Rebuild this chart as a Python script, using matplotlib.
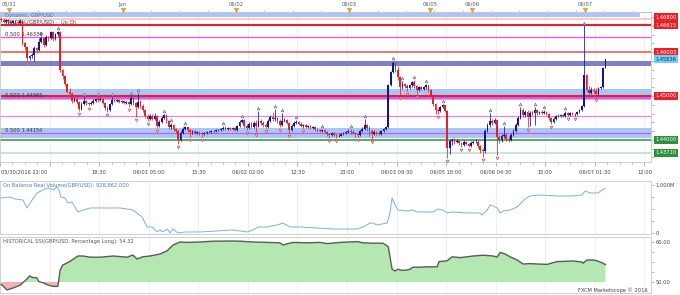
import matplotlib
matplotlib.use('Agg')
import matplotlib.pyplot as plt
import matplotlib.transforms as mtransforms
import numpy as np

plt.rcParams['font.family'] = ['DejaVu Sans']

# ---------------- data (30-minute GBP/USD candles) ----------------
first_open = 1.4676
closes = [
    1.4673, 1.4669, 1.4673, 1.4671, 1.4666, 1.4671, 1.4669, 1.4666, 1.4671, 1.4621,
    1.4612, 1.4587, 1.4591, 1.4593, 1.4609, 1.4605, 1.4623, 1.4632, 1.4616, 1.4635,
    1.4632, 1.4646, 1.4630, 1.4641, 1.4646, 1.4559, 1.4546, 1.4527, 1.4509, 1.4505,
    1.4489, 1.4493, 1.4486, 1.4470, 1.4482, 1.4489, 1.4484, 1.4482, 1.4484, 1.4489,
    1.4493, 1.4491, 1.4493, 1.4484, 1.4473, 1.4468, 1.4482, 1.4491, 1.4489, 1.4491,
    1.4486, 1.4489, 1.4484, 1.4486, 1.4482, 1.4495, 1.4484, 1.4475, 1.4486, 1.4477,
    1.4468, 1.4454, 1.4448, 1.4454, 1.4448, 1.4454, 1.4432, 1.4441, 1.4450, 1.4457,
    1.4443, 1.4429, 1.4434, 1.4425, 1.4420, 1.4400, 1.4416, 1.4425, 1.4429, 1.4422,
    1.4418, 1.4420, 1.4416, 1.4418, 1.4416, 1.4413, 1.4416, 1.4418, 1.4418, 1.4420,
    1.4420, 1.4422, 1.4422, 1.4425, 1.4427, 1.4425, 1.4427, 1.4425, 1.4427, 1.4422,
    1.4432, 1.4441, 1.4445, 1.4432, 1.4427, 1.4436, 1.4429, 1.4438, 1.4432, 1.4443,
    1.4438, 1.4434, 1.4429, 1.4443, 1.4452, 1.4448, 1.4450, 1.4443, 1.4434, 1.4443,
    1.4445, 1.4438, 1.4422, 1.4432, 1.4438, 1.4441, 1.4436, 1.4432, 1.4434, 1.4429,
    1.4432, 1.4427, 1.4429, 1.4425, 1.4422, 1.4420, 1.4422, 1.4418, 1.4413, 1.4411,
    1.4416, 1.4411, 1.4409, 1.4409, 1.4413, 1.4416, 1.4418, 1.4420, 1.4418, 1.4416,
    1.4413, 1.4411, 1.4420, 1.4425, 1.4434, 1.4427, 1.4420, 1.4413, 1.4418, 1.4416,
    1.4413, 1.4420, 1.4425, 1.4429, 1.4525, 1.4555, 1.4575, 1.4559, 1.4543, 1.4521,
    1.4527, 1.4523, 1.4518, 1.4525, 1.4532, 1.4523, 1.4514, 1.4521, 1.4516, 1.4521,
    1.4525, 1.4514, 1.4502, 1.4482, 1.4468, 1.4466, 1.4475, 1.4479, 1.4466, 1.4381,
    1.4397, 1.4400, 1.4395, 1.4397, 1.4393, 1.4388, 1.4395, 1.4391, 1.4386, 1.4393,
    1.4395, 1.4395, 1.4386, 1.4377, 1.4375, 1.4420, 1.4434, 1.4443, 1.4438, 1.4445,
    1.4406, 1.4400, 1.4409, 1.4411, 1.4402, 1.4400, 1.4411, 1.4420, 1.4434, 1.4450,
    1.4468, 1.4457, 1.4464, 1.4452, 1.4461, 1.4461, 1.4468, 1.4461, 1.4464, 1.4461,
    1.4464, 1.4459, 1.4450, 1.4441, 1.4448, 1.4454, 1.4454, 1.4457, 1.4454, 1.4461,
    1.4457, 1.4461, 1.4459, 1.4459, 1.4464, 1.4468, 1.4477, 1.4548, 1.4514, 1.4507,
    1.4514, 1.4511, 1.4505, 1.4518, 1.4521, 1.4564, 1.45836,
]
highs = [
    1.4680, 1.4678, 1.4676, 1.4676, 1.4673, 1.4673, 1.4673, 1.4671, 1.4676, 1.4671,
    1.4623, 1.4614, 1.4593, 1.4598, 1.4614, 1.4612, 1.4632, 1.4637, 1.4632, 1.4639,
    1.4637, 1.4648, 1.4648, 1.4644, 1.4648, 1.4648, 1.4562, 1.4548, 1.4530, 1.4518,
    1.4509, 1.4498, 1.4498, 1.4489, 1.4486, 1.4498, 1.4491, 1.4486, 1.4489, 1.4493,
    1.4495, 1.4498, 1.4498, 1.4495, 1.4486, 1.4477, 1.4484, 1.4498, 1.4493, 1.4493,
    1.4493, 1.4491, 1.4491, 1.4489, 1.4489, 1.4500, 1.4498, 1.4486, 1.4507, 1.4491,
    1.4482, 1.4470, 1.4459, 1.4459, 1.4459, 1.4461, 1.4457, 1.4445, 1.4454, 1.4459,
    1.4459, 1.4445, 1.4438, 1.4436, 1.4427, 1.4422, 1.4420, 1.4429, 1.4432, 1.4429,
    1.4425, 1.4422, 1.4422, 1.4420, 1.4420, 1.4418, 1.4418, 1.4420, 1.4420, 1.4422,
    1.4422, 1.4425, 1.4425, 1.4427, 1.4432, 1.4432, 1.4429, 1.4429, 1.4429, 1.4429,
    1.4434, 1.4445, 1.4448, 1.4448, 1.4436, 1.4441, 1.4441, 1.4443, 1.4445, 1.4466,
    1.4448, 1.4443, 1.4438, 1.4448, 1.4457, 1.4464, 1.4470, 1.4452, 1.4448, 1.4461,
    1.4450, 1.4448, 1.4441, 1.4436, 1.4443, 1.4445, 1.4443, 1.4441, 1.4436, 1.4436,
    1.4434, 1.4434, 1.4432, 1.4432, 1.4427, 1.4425, 1.4425, 1.4425, 1.4420, 1.4416,
    1.4418, 1.4418, 1.4413, 1.4413, 1.4416, 1.4418, 1.4420, 1.4425, 1.4425, 1.4422,
    1.4418, 1.4416, 1.4422, 1.4429, 1.4448, 1.4436, 1.4432, 1.4425, 1.4422, 1.4420,
    1.4420, 1.4422, 1.4427, 1.4432, 1.4527, 1.4557, 1.4580, 1.4578, 1.4568, 1.4546,
    1.4534, 1.4530, 1.4527, 1.4527, 1.4534, 1.4536, 1.4525, 1.4523, 1.4523, 1.4523,
    1.4527, 1.4525, 1.4516, 1.4505, 1.4484, 1.4473, 1.4477, 1.4482, 1.4479, 1.4468,
    1.4402, 1.4404, 1.4404, 1.4402, 1.4400, 1.4395, 1.4400, 1.4397, 1.4393, 1.4397,
    1.4400, 1.4402, 1.4400, 1.4388, 1.4381, 1.4425, 1.4438, 1.4461, 1.4448, 1.4450,
    1.4448, 1.4411, 1.4413, 1.4432, 1.4416, 1.4409, 1.4416, 1.4425, 1.4438, 1.4454,
    1.4475, 1.4473, 1.4468, 1.4468, 1.4466, 1.4466, 1.4475, 1.4470, 1.4466, 1.4468,
    1.4468, 1.4466, 1.4461, 1.4452, 1.4452, 1.4457, 1.4459, 1.4459, 1.4459, 1.4466,
    1.4464, 1.4464, 1.4464, 1.4461, 1.4466, 1.4470, 1.4479, 1.4661, 1.4550, 1.4523,
    1.4521, 1.4518, 1.4518, 1.4521, 1.4523, 1.4566, 1.4585,
]
lows = [
    1.4669, 1.4666, 1.4666, 1.4664, 1.4662, 1.4664, 1.4664, 1.4662, 1.4664, 1.4616,
    1.4605, 1.4580, 1.4582, 1.4587, 1.4580, 1.4598, 1.4603, 1.4621, 1.4612, 1.4614,
    1.4625, 1.4630, 1.4625, 1.4628, 1.4637, 1.4555, 1.4539, 1.4523, 1.4507, 1.4500,
    1.4484, 1.4486, 1.4482, 1.4466, 1.4468, 1.4479, 1.4479, 1.4477, 1.4479, 1.4482,
    1.4486, 1.4486, 1.4489, 1.4482, 1.4468, 1.4464, 1.4466, 1.4479, 1.4486, 1.4486,
    1.4484, 1.4484, 1.4482, 1.4482, 1.4475, 1.4479, 1.4479, 1.4452, 1.4473, 1.4473,
    1.4464, 1.4450, 1.4443, 1.4445, 1.4445, 1.4445, 1.4427, 1.4429, 1.4438, 1.4448,
    1.4438, 1.4425, 1.4425, 1.4420, 1.4416, 1.4391, 1.4397, 1.4413, 1.4422, 1.4418,
    1.4406, 1.4413, 1.4413, 1.4413, 1.4411, 1.4406, 1.4411, 1.4413, 1.4416, 1.4416,
    1.4418, 1.4418, 1.4420, 1.4420, 1.4422, 1.4422, 1.4422, 1.4422, 1.4422, 1.4420,
    1.4420, 1.4429, 1.4438, 1.4427, 1.4422, 1.4425, 1.4427, 1.4427, 1.4418, 1.4429,
    1.4434, 1.4429, 1.4427, 1.4427, 1.4441, 1.4443, 1.4443, 1.4438, 1.4429, 1.4432,
    1.4441, 1.4436, 1.4416, 1.4420, 1.4429, 1.4436, 1.4434, 1.4429, 1.4427, 1.4427,
    1.4427, 1.4425, 1.4425, 1.4420, 1.4418, 1.4418, 1.4418, 1.4416, 1.4409, 1.4404,
    1.4409, 1.4409, 1.4404, 1.4406, 1.4409, 1.4411, 1.4413, 1.4416, 1.4413, 1.4413,
    1.4406, 1.4406, 1.4409, 1.4418, 1.4422, 1.4420, 1.4409, 1.4402, 1.4411, 1.4411,
    1.4411, 1.4411, 1.4418, 1.4422, 1.4427, 1.4523, 1.4552, 1.4555, 1.4536, 1.4502,
    1.4516, 1.4518, 1.4511, 1.4516, 1.4521, 1.4518, 1.4505, 1.4511, 1.4514, 1.4514,
    1.4516, 1.4509, 1.4500, 1.4477, 1.4459, 1.4459, 1.4464, 1.4473, 1.4464, 1.4359,
    1.4368, 1.4388, 1.4391, 1.4393, 1.4388, 1.4384, 1.4386, 1.4388, 1.4384, 1.4384,
    1.4391, 1.4393, 1.4381, 1.4370, 1.4361, 1.4370, 1.4418, 1.4429, 1.4434, 1.4436,
    1.4365, 1.4393, 1.4395, 1.4404, 1.4397, 1.4395, 1.4397, 1.4409, 1.4418, 1.4432,
    1.4448, 1.4452, 1.4452, 1.4429, 1.4432, 1.4457, 1.4434, 1.4457, 1.4459, 1.4459,
    1.4459, 1.4457, 1.4445, 1.4436, 1.4438, 1.4445, 1.4452, 1.4452, 1.4452, 1.4452,
    1.4454, 1.4454, 1.4457, 1.4454, 1.4457, 1.4461, 1.4466, 1.4475, 1.4509, 1.4502,
    1.4505, 1.4507, 1.4498, 1.4502, 1.4516, 1.4518, 1.4564,
]
opens = [first_open] + closes[:-1]

fractal_up = [17, 24, 35, 41, 47, 55, 58, 69, 72, 78, 94, 102, 109, 116, 119, 125,
              136, 148, 154, 166, 170, 175, 180, 187, 207, 213, 220, 226, 230, 239, 247]
fractal_dn = [11, 14, 33, 37, 45, 54, 57, 62, 66, 75, 80, 85, 104, 108, 112, 118, 122,
              128, 139, 142, 151, 157, 169, 172, 176, 185, 189, 195, 198, 204, 210,
              223, 233, 240, 243, 252]

# horizontal levels
fib_levels = [1.46336, 1.44965, 1.44154]
fib_labels = ['0.500 1.46336', '0.500 1.44965', '0.500 1.44154']
tag_values = [1.46800, 1.46615, 1.46003, 1.45836, 1.45000, 1.44000, 1.43710]
tag_texts = ['1.46800', '1.46615', '1.46003', '1.45836', '1.45000', '1.44000', '1.43710']

# On Balance Real Volume (millions), sampled at candle positions
obv_t = [0.0, 3.7, 5.8, 9.2, 10.9, 13.1, 15.2, 17.7, 19.8, 22.0, 23.6, 24.5, 25.3, 27.0,
         28.3, 30.0, 32.5, 34.7, 37.6, 41.9, 46.1, 50.3, 53.3, 55.8, 57.5, 59.7, 61.8,
         63.9, 66.0, 67.3, 68.6, 70.3, 71.5, 72.8, 74.9, 77.9, 84.2, 91.4, 98.2, 104.2,
         106.7, 108.8, 112.6, 116.9, 119.4, 122.4, 126.6, 133.8, 140.6, 143.6, 150.8,
         153.3, 156.3, 157.5, 159.2, 163.5, 164.7, 165.6, 166.9, 168.1, 172.0, 174.1,
         176.2, 183.0, 185.1, 187.2, 188.9, 191.0, 197.4, 202.9, 203.7, 205.9, 207.1,
         208.4, 210.1, 211.4, 212.6, 215.6, 218.6, 220.7, 221.9, 224.1, 228.3, 235.5,
         242.3, 246.1, 247.4, 249.5, 251.6, 252.9, 254.6, 255.8]
obv_m = [729, 750, 708, 688, 521, 688, 833, 896, 938, 896, 958, 896, 750, 729,
         625, 646, 438, 479, 521, 521, 521, 521, 500, 479, 417, 333, 125,
         125, 21, 63, 21, 83, 0, 83, 0, 21, 21, 42, 63, 21,
         63, 125, 125, 167, 208, 125, 125, 104, 83, 83, 83,
         125, 208, 208, 167, 208, 417, 729, 583, 479, 458, 479,
         438, 438, 500, 479, 417, 438, 417, 417, 375, 479, 583,
         563, 521, 417, 458, 479, 542, 646, 708, 771, 792, 771,
         771, 792, 875, 833, 833, 833, 896, 929]

# Historical SSI (percentage long)
ssi_t = [0.0, 2.5, 5.0, 8.0, 11.0, 12.0, 13.5, 15.0, 16.0, 17.7, 20.0, 22.0, 24.0, 25.0,
         26.0, 29.0, 32.5, 34.7, 37.6, 41.9, 47.4, 53.3, 55.8, 57.5, 60.0, 63.0, 67.3,
         70.3, 72.8, 75.8, 78.7, 84.2, 89.7, 98.2, 101.2, 106.7, 112.6, 118.1, 119.4,
         121.5, 123.7, 129.6, 135.1, 138.1, 143.6, 150.8, 153.3, 157.5, 161.8, 164.0,
         165.6, 166.9, 168.1, 169.8, 172.0, 173.2, 174.5, 177.5, 180.4, 184.7, 185.5,
         188.9, 191.0, 194.4, 197.4, 200.0, 204.2, 208.4, 210.1, 211.4, 213.5, 215.6,
         218.6, 221.1, 224.1, 227.1, 231.3, 235.5, 242.3, 246.1, 246.5, 248.2, 250.8,
         252.5, 253.7, 255.0, 256.0]
ssi_v = [49.4, 48.0, 48.5, 49.2, 50.8, 51.5, 51.1, 51.1, 50.1, 49.8, 49.2, 48.9, 48.9, 53.0,
         54.2, 55.1, 56.5, 56.5, 56.2, 56.2, 56.5, 56.2, 56.75, 55.75, 56.3, 56.5, 57.0,
         57.8, 59.25, 60.0, 59.9, 60.0, 60.2, 60.25, 60.2, 60.0, 59.9, 59.8, 59.25,
         59.6, 59.9, 59.8, 59.9, 59.6, 59.9, 60.1, 59.8, 59.7, 59.7, 58.8,
         53.2, 52.75, 53.2, 52.9, 53.0, 53.2, 53.7, 53.7, 53.8, 53.8, 55.1,
         55.3, 56.3, 56.1, 56.3, 56.5, 56.7, 56.5, 56.2, 57.4, 57.0, 56.3,
         55.5, 54.5, 54.6, 54.5, 54.4, 55.1, 55.25, 55.0, 54.7, 55.5, 55.5,
         55.3, 55.0, 54.7, 54.32]

# time axis: grid every 21 half-hour candles
bottom_labels = ['05/30/2016 22:00', '', '18:30', '06/01 05:00', '15:30', '06/02 02:00',
                 '12:30', '23:00', '06/03 09:30', '06/05 18:00', '06/06 04:30', '15:00',
                 '06/07 01:30', '12:00']
day_pos = [3.5, 51.5, 99.5, 147.5, 181.5, 199.5, 247.5]
day_labels = ['05/31', 'Jun', '06/02', '06/03', '06/05', '06/06', '06/07']

# ---------------- styling ----------------
UP = '#12129c'
DN = '#e3231f'
RED = '#e8202a'
MAG = '#f050f0'
BAND = '#a9c6f6'
GRID = '#ececec'
SPINE = '#c9c9c9'
TXT = '#444444'
FS = 3.7

W, H = 680.0, 295.0
fig = plt.figure(figsize=(6.8, 2.95), dpi=100)
fig.patch.set_facecolor('white')


def px_axes(left, top, right, bottom):
    return fig.add_axes([left / W, 1 - bottom / H, (right - left) / W, (bottom - top) / H])


ax = px_axes(0, 12, 651, 162)
ax_obv = px_axes(0, 181, 651, 234)
ax_ssi = px_axes(0, 237, 651, 293)

XMIN, XMAX = -0.51, 275.3
grid_pos = [-0.5 + 21 * k for k in range(len(bottom_labels))]

for a in (ax, ax_obv, ax_ssi):
    a.set_xlim(XMIN, XMAX)
    a.set_facecolor('white')
    for s in a.spines.values():
        s.set_color(SPINE)
        s.set_linewidth(0.6)
    for gx in grid_pos[1:]:
        a.axvline(gx, color=GRID, lw=0.6, zorder=0)
    a.yaxis.tick_right()

# ---------------- main price panel ----------------
ax.set_ylim(1.43495, 1.46915)

ax.axhspan(1.4680, 1.4689, xmax=640 / 651, color=BAND, lw=0, zorder=1)
ax.axhspan(1.4673, 1.4678, color='#f9cbc6', lw=0, zorder=1)
ax.axhline(1.46615, color=RED, lw=1.5, zorder=2)
ax.axhline(fib_levels[0], color=MAG, lw=0.9, zorder=2)
ax.axhline(1.46003, color='#f07474', lw=1.4, zorder=2)
ax.axhspan(1.45685, 1.45800, color='#7d80c2', lw=0, zorder=1)
ax.axhspan(1.4491, 1.4516, color=BAND, lw=0, zorder=1)
ax.axhline(fib_levels[1], color=MAG, lw=1.5, zorder=2)
ax.axhline(1.45000, color=RED, lw=1.5, zorder=2)
ax.axhline(1.4454, color='#f27af2', lw=0.8, zorder=2)
ax.axhspan(1.4404, 1.4427, color=BAND, lw=0, zorder=1)
ax.axhline(fib_levels[2], color='#c858e8', lw=0.8, zorder=2)
ax.axhline(1.44000, color='#2f8f3f', lw=1.1, zorder=2)
ax.axhline(1.43710, color='#b9dfc1', lw=1.1, zorder=2)

# candles
t = np.arange(len(closes))
o = np.array(opens)
c = np.array(closes)
hi = np.maximum(np.array(highs), np.maximum(o, c))
lo = np.minimum(np.array(lows), np.minimum(o, c))
up = c >= o
cols = np.where(up, UP, DN)
ax.vlines(t, lo, hi, colors=cols, lw=0.55, zorder=4)
body_b = np.minimum(o, c)
body_h = np.maximum(np.abs(c - o), 0.00005)
ax.bar(t, body_h, bottom=body_b, width=0.72, color=cols, lw=0, zorder=5)

# fractal arrows
up_tr = mtransforms.offset_copy(ax.transData, fig=fig, y=2.8, units='dots')
dn_tr = mtransforms.offset_copy(ax.transData, fig=fig, y=-2.8, units='dots')
ax.plot(fractal_up, hi[fractal_up], ls='none', marker='^', ms=1.9, mfc='#e8ecff',
        mec='#4a5fd0', mew=0.45, transform=up_tr, zorder=6)
ax.plot(fractal_dn, lo[fractal_dn], ls='none', marker='v', ms=1.9, mfc='#ffe8e8',
        mec='#e04040', mew=0.45, transform=dn_tr, zorder=6)

# fib labels
for lv, lb in zip(fib_levels, fib_labels):
    ax.text(1.5, lv, lb, fontsize=FS, color='#333333', va='bottom', ha='left', zorder=7)

# legend texts
ax.text(5 / 651, 1 - 3.8 / 150, 'Dynamic: GBP/USD', transform=ax.transAxes, fontsize=FS,
        color='#5a74a8', va='center', ha='left', zorder=3)
ax.text(5 / 651, 1 - 10.5 / 150, 'FRACTAL(GBP/USD)', transform=ax.transAxes, fontsize=FS,
        color='#2a2a60', va='center', ha='left', zorder=7)
ax.text(56 / 651, 1 - 10.5 / 150, '·  Up', transform=ax.transAxes, fontsize=FS,
        color='#3050d0', va='center', ha='left', zorder=7)
ax.text(69 / 651, 1 - 10.5 / 150, 'Dn', transform=ax.transAxes, fontsize=FS,
        color='#e03030', va='center', ha='left', zorder=7)

# right price tags
tag_style = {
    '1.46800': (RED, 'white'), '1.46615': (RED, 'white'), '1.46003': (RED, 'white'),
    '1.45836': ('#6fd0f4', '#12305a'), '1.45000': (RED, 'white'),
    '1.44000': ('#2f8f3f', 'white'), '1.43710': ('#2f8f3f', 'white'),
}
for v, tx in zip(tag_values, tag_texts):
    bg, fg = tag_style[tx]
    ax.text(1.007, v, tx, transform=ax.get_yaxis_transform(), fontsize=FS, color=fg,
            va='center', ha='left', clip_on=False,
            bbox=dict(boxstyle='square,pad=0.28', fc=bg, ec='none'))

ax.set_yticks(np.arange(1.436, 1.4691, 0.002))
ax.tick_params(axis='y', right=True, left=False, labelright=False, length=2,
               color='#999999', width=0.5)
ax.set_xticks(grid_pos)
ax.set_xticks(np.arange(-0.5, XMAX, 5.25), minor=True)
ax.tick_params(axis='x', which='both', bottom=True, labelbottom=False, color='#999999',
               width=0.5)
ax.tick_params(axis='x', which='major', length=3)
ax.tick_params(axis='x', which='minor', length=1.6)

for gx, lb in zip(grid_pos, bottom_labels):
    if not lb:
        continue
    ha = 'left' if gx == grid_pos[0] else 'center'
    ax.text(gx + (0.6 if ha == 'left' else 0), -10 / 150, lb, transform=ax.get_xaxis_transform(),
            fontsize=FS, color=TXT, ha=ha, va='center', clip_on=False)

# top date axis
sec = ax.secondary_xaxis('top')
sec.set_xticks(np.arange(3.5, XMAX, 12))
sec.tick_params(axis='x', length=1.8, color='#aaaaaa', width=0.5, labeltop=False)
sec.spines['top'].set_color(SPINE)
for dp, dl in zip(day_pos, day_labels):
    ax.text(dp, 1 + 7.5 / 150, dl, transform=ax.get_xaxis_transform(), fontsize=FS,
            color='#555555', ha='center', va='center', clip_on=False)
ax.plot(day_pos, [1 + 1.8 / 150] * len(day_pos), transform=ax.get_xaxis_transform(),
        ls='none', marker='v', ms=3.2, color='#f2a32a', mec='#d88a10', mew=0.3,
        clip_on=False, zorder=8)

# ---------------- OBV panel ----------------
ax_obv.set_ylim(-21, 1083)
ax_obv.plot(obv_t, obv_m, color='#7cb0e4', lw=0.7, zorder=3)
ax_obv.set_yticks([0, 1000])
ax_obv.set_yticklabels(['0', '1,000M'])
ax_obv.set_yticks([250, 500, 750], minor=True)
ax_obv.tick_params(axis='y', which='both', labelsize=FS, labelcolor=TXT, color='#999999',
                   width=0.5, length=2, pad=1.5)
ax_obv.set_xticks([])
ax_obv.text(3 / 651, 1 - 4 / 53, 'On Balance Real Volume(GBP/USD): 928,862,000',
            transform=ax_obv.transAxes, fontsize=FS, color='#4a7fc0', va='center', ha='left')

# ---------------- SSI panel ----------------
ax_ssi.set_ylim(47.25, 61.25)
sv = np.array(ssi_v)
ax_ssi.fill_between(ssi_t, 50, sv, where=sv >= 50, interpolate=True, color='#b4e8b0',
                    lw=0, zorder=2)
ax_ssi.fill_between(ssi_t, 50, sv, where=sv <= 50, interpolate=True, color='#f0b2b2',
                    lw=0, zorder=2)
ax_ssi.plot(ssi_t, sv, color='#5a5a5a', lw=1.0, zorder=3)
ax_ssi.set_yticks([50, 60])
ax_ssi.set_yticklabels(['50.00', '60.00'])
ax_ssi.set_yticks([52.5, 55, 57.5], minor=True)
ax_ssi.tick_params(axis='y', which='both', labelsize=FS, labelcolor=TXT, color='#999999',
                   width=0.5, length=2, pad=1.5)
ax_ssi.set_xticks([])
ax_ssi.text(3 / 651, 1 - 4 / 56, 'HISTORICAL SSI(GBP/USD, Percentage Long): 54.32',
            transform=ax_ssi.transAxes, fontsize=FS, color='#555555', va='center', ha='left')

fig.text(648 / W, 1 - 290 / H, 'FXCM Marketscope © 2016', fontsize=FS, color='#444444',
         ha='right', va='center')

fig.savefig('out.png', dpi=100, facecolor='white')
